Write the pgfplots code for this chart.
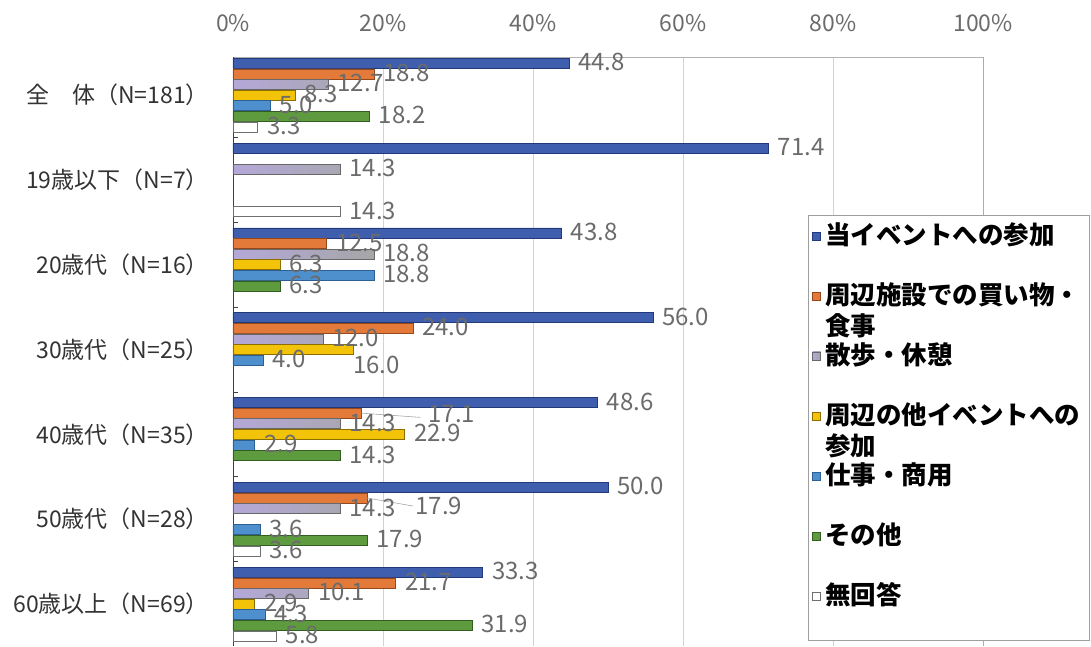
\documentclass[border=0pt]{standalone}
\usepackage{fontspec}
\setmainfont{Noto Sans CJK JP}
\usepackage{pgfplots}
\usepackage{pgfplotstable}
\pgfplotsset{compat=1.18}

% bar colours (fill / outline)
\definecolor{cBlue}{HTML}{3F5FAE}   \definecolor{cBlueD}{HTML}{22397A}
\definecolor{cOrange}{HTML}{E37A3A} \definecolor{cOrangeD}{HTML}{94481C}
\definecolor{cGray}{HTML}{A6A6A8}   \definecolor{cGrayD}{HTML}{686868}
\definecolor{cLav}{HTML}{B4A8D8}
\definecolor{cYellow}{HTML}{F3C30A} \definecolor{cYellowD}{HTML}{8C6E00}
\definecolor{cLBlue}{HTML}{4E8FCD}  \definecolor{cLBlueD}{HTML}{2D5F92}
\definecolor{cGreen}{HTML}{5E9B3E}  \definecolor{cGreenD}{HTML}{335E22}
\definecolor{cWhiteD}{HTML}{707070}
\definecolor{labgray}{HTML}{6B6B6B}

\newcommand\lab{\fontsize{24}{28}\selectfont}
\newcommand\legitem[1]{\parbox[t]{258pt}{\fontsize{25.5}{31}\selectfont\bfseries #1}}

% g = age group (0 = total), v = share in %, dx/dy = label offset in pt
\pgfplotstableread{
g v dx dy
0 44.8 0 0
1 71.4 0 0
2 43.8 0 0
3 56.0 0 0
4 48.6 0 0
5 50.0 0 0
6 33.3 0 0
}\tEvent
\pgfplotstableread{
g v dx dy
0 18.8 0 0
2 12.5 0 0
3 24.0 0 0
4 17.1 58 2
5 17.9 39 9
6 21.7 0 0
}\tShop
\pgfplotstableread{
g v dx dy
0 12.7 0 0
1 14.3 0 0
2 18.8 0 0
3 12.0 0 0
4 14.3 0 0
5 14.3 0 0
6 10.1 0 0
}\tWalk
\pgfplotstableread{
g v dx dy
0 8.3 0 0
2 6.3 0 0
3 16.0 -9 16
4 22.9 0 0
6 2.9 0 0
}\tOther
\pgfplotstableread{
g v dx dy
0 5.0 0 0
2 18.8 0 0
3 4.0 0 0
4 2.9 0 0
5 3.6 0 0
6 4.3 0 0
}\tWork
\pgfplotstableread{
g v dx dy
0 18.2 0 0
2 6.3 0 0
4 14.3 0 0
5 17.9 0 0
6 31.9 0 0
}\tEtc
\pgfplotstableread{
g v dx dy
0 3.3 0 0
1 14.3 0 0
5 3.6 0 0
6 5.8 0 0
}\tNone

\pgfplotsset{
  /pgf/number format/assume math mode=true,
  barlab/.style={
    nodes near coords={\pgfmathprintnumber[fixed,fixed zerofill,precision=1]{\pgfplotspointmeta}},
    point meta=x,
    visualization depends on={\thisrow{dx} \as \dx},
    visualization depends on={\thisrow{dy} \as \dy},
    nodes near coords style={anchor=west, inner sep=0pt, font=\lab, text=labgray,
      xshift={(9+\dx)*1pt}, yshift={(1-\dy)*1pt}},
    line width=0.6pt,
    legend image code/.code={\draw[##1, line width=0.6pt] (0pt,5pt) rectangle (8pt,13pt);},
  },
}

\begin{document}
\begin{tikzpicture}
\begin{axis}[
  name=ax,
  scale only axis,
  width=750pt, height=589pt,
  xbar=0.6pt, bar width=10pt,
  y dir=reverse,
  xmin=0, xmax=100,
  ymin=-0.448, ymax=6.495,
  axis x line*=top,
  axis y line*=left,
  x axis line style={draw=gray!60, line width=0.8pt},
  y axis line style={draw=black!75, line width=0.8pt},
  xtick={0,20,40,60,80,100},
  xticklabels={0\%,20\%,40\%,60\%,80\%,100\%},
  xticklabel style={font=\fontsize{23}{28}\selectfont, text=labgray, anchor=base, inner sep=0pt, yshift=25pt},
  extra x ticks={100},
  extra x tick labels={},
  extra x tick style={grid style={draw=gray!65, line width=0.8pt}},
  ytick={0,...,6},
  yticklabels={全　体（N=181）,19歳以下（N=7）,20歳代（N=16）,30歳代（N=25）,40歳代（N=35）,50歳代（N=28）,60歳以上（N=69）},
  yticklabel style={font=\fontsize{23}{28}\selectfont, text=black!80, anchor=east, inner sep=0pt, xshift=-24pt},
  major tick length=0pt,
  minor ytick={0.5,1.5,...,5.5},
  minor tick length=5pt,
  tick align=inside,
  minor tick style={draw=black!75, line width=0.6pt},
  xmajorgrids=true,
  grid style={draw=gray!35, line width=0.6pt},
  legend cell align=left,
  legend style={at={(axis description cs:0.7667,0.7317)}, anchor=north west,
    draw=gray!75, line width=0.8pt, fill=white,
    inner xsep=4pt, inner ysep=7.5pt, row sep=10pt, column sep=2pt,
    cells={anchor=base west},
    nodes={inner ysep=0pt, inner xsep=2pt, text height=22pt, text depth=28pt}},
]
% bars are stacked top to bottom within each group
\addplot[fill=cBlue,   draw=cBlueD,   barlab, bar shift=31.8pt]  table[x=v,y=g] {\tEvent};
\addplot[fill=cOrange, draw=cOrangeD, barlab, bar shift=21.2pt]  table[x=v,y=g] {\tShop};
\addplot[left color=cLav, middle color=cGray, right color=cGray, draw=cGrayD, barlab, bar shift=10.6pt] table[x=v,y=g] {\tWalk};
\addplot[fill=cYellow, draw=cYellowD, barlab, bar shift=0pt]     table[x=v,y=g] {\tOther};
\addplot[fill=cLBlue,  draw=cLBlueD,  barlab, bar shift=-10.6pt] table[x=v,y=g] {\tWork};
\addplot[fill=cGreen,  draw=cGreenD,  barlab, bar shift=-21.2pt] table[x=v,y=g] {\tEtc};
\addplot[fill=white,   draw=cWhiteD,  barlab, bar shift=-31.8pt] table[x=v,y=g] {\tNone};
% leader lines to the moved labels
\addplot[sharp plot, no marks, forget plot, draw=gray!70, line width=0.6pt] coordinates {(17.1,3.75) (25.0,3.80)};
\addplot[sharp plot, no marks, forget plot, draw=gray!70, line width=0.6pt] coordinates {(17.9,4.75) (24.0,4.845)};
\legend{\legitem{当イベントへの参加},
        \legitem{周辺施設での買い物・\\食事},
        \legitem{散歩・休憩},
        \legitem{周辺の他イベントへの\\参加},
        \legitem{仕事・商用},
        \legitem{その他},
        \legitem{無回答}}
\end{axis}
\pgfresetboundingbox
\path[use as bounding box] ([xshift=-233pt,yshift=57pt]ax.north west) rectangle ([xshift=858pt]ax.south west);
\end{tikzpicture}
\end{document}
